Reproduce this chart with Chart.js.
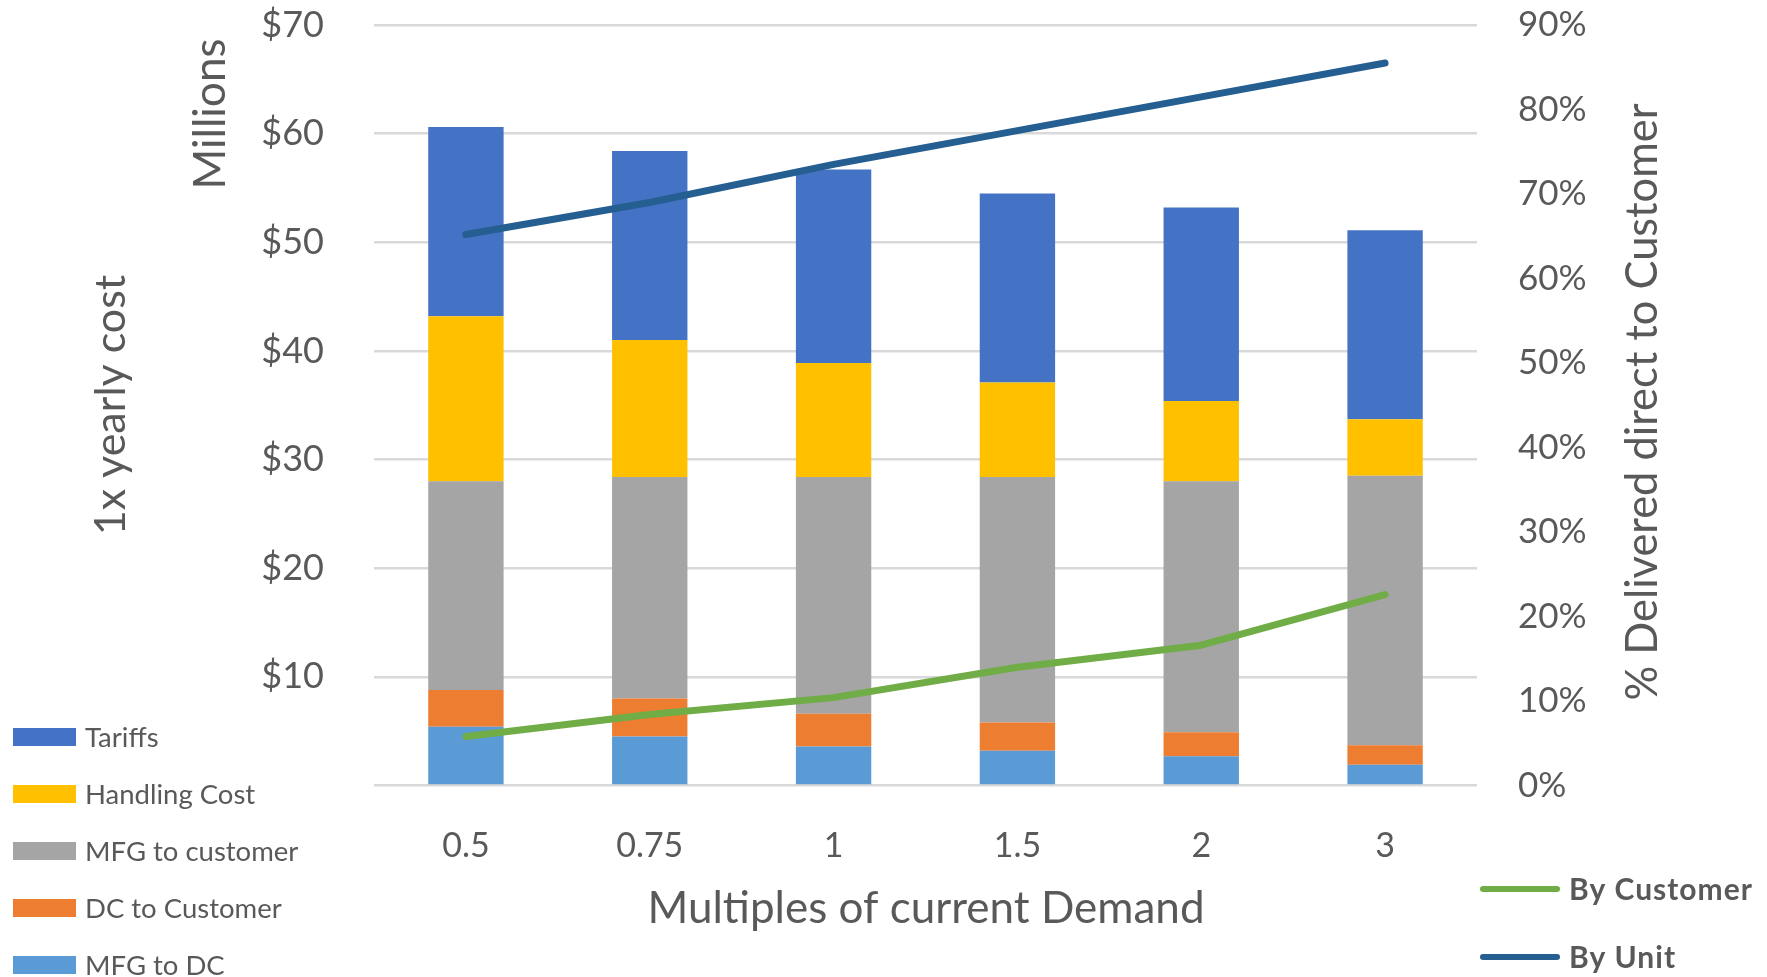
<!DOCTYPE html>
<html>
<head>
<meta charset="utf-8">
<script src="https://cdn.jsdelivr.net/npm/chart.js@4/dist/chart.umd.min.js"></script>
<style>
  html, body { margin: 0; padding: 0; background: #ffffff; }
  canvas { display: block; }
</style>
</head>
<body>
<canvas id="c" width="1767" height="977"></canvas>
<script>
// Demand multiples on the category axis
const categories = ['0.5', '0.75', '1', '1.5', '2', '3'];

// Yearly cost components, $ millions (stacked bottom to top)
const mfgToDc       = [5.4, 4.5, 3.6, 3.2, 2.7, 1.9];
const dcToCustomer  = [3.4, 3.5, 3.0, 2.6, 2.2, 1.8];
const mfgToCustomer = [19.2, 20.4, 21.8, 22.6, 23.1, 24.8];
const handlingCost  = [15.2, 12.6, 10.5, 8.7, 7.4, 5.2];
const tariffs       = [17.4, 17.4, 17.8, 17.4, 17.8, 17.4];

// Share delivered direct to customer, %
const byCustomer = [5.8, 8.4, 10.4, 14.0, 16.6, 22.6];
const byUnit     = [65.2, 69.0, 73.5, 77.5, 81.5, 85.5];

// Axis tick values
const costTicks = [0, 10, 20, 30, 40, 50, 60, 70];
const pctTicks  = [0, 10, 20, 30, 40, 50, 60, 70, 80, 90];

const TEXT = '#595959';
const FONT = 'Lato, "Open Sans", sans-serif';

const barSet = (label, data, color) => ({
  type: 'bar', label, data, backgroundColor: color, borderWidth: 0,
  yAxisID: 'y', stack: 'cost', order: 2,
  barPercentage: 0.41, categoryPercentage: 1.0
});
const lineSet = (label, data, color) => ({
  type: 'line', label, data, borderColor: color, backgroundColor: color,
  borderWidth: 7, pointRadius: 0, tension: 0, yAxisID: 'y1', order: 0,
  borderCapStyle: 'round', borderJoinStyle: 'round'
});

const datasets = [
  barSet('MFG to DC', mfgToDc, '#5b9bd5'),
  barSet('DC to Customer', dcToCustomer, '#ed7d31'),
  barSet('MFG to customer', mfgToCustomer, '#a5a5a5'),
  barSet('Handling Cost', handlingCost, '#ffc000'),
  barSet('Tariffs', tariffs, '#4472c4'),
  lineSet('By Customer', byCustomer, '#70ad47'),
  lineSet('By Unit', byUnit, '#255e91')
];

// Axis titles and the two legends
const decorations = {
  id: 'decorations',
  afterDraw(chart) {
    const ctx = chart.ctx;
    ctx.save();
    ctx.fillStyle = TEXT;
    ctx.textBaseline = 'middle';

    // rotated axis titles
    const vtext = (txt, x, y, size, maxW) => {
      ctx.save();
      ctx.translate(x, y);
      ctx.rotate(-Math.PI / 2);
      ctx.textAlign = 'center';
      ctx.font = size + 'px ' + FONT;
      if (maxW) ctx.fillText(txt, 0, 0, maxW); else ctx.fillText(txt, 0, 0);
      ctx.restore();
    };
    vtext('Millions', 211, 114, 44);
    vtext('1x yearly cost', 111, 405, 43);
    vtext('% Delivered direct to Customer', 1643, 402, 44, 597);

    // category axis title
    ctx.textAlign = 'center';
    ctx.font = '44px ' + FONT;
    ctx.fillText('Multiples of current Demand', 926, 909);

    // bar legend, top item is the top of the stack
    const bars = chart.data.datasets.filter(d => d.type === 'bar').slice().reverse();
    ctx.textAlign = 'left';
    ctx.font = '27.5px ' + FONT;
    bars.forEach((d, i) => {
      const cy = 737 + i * 57;
      ctx.fillStyle = d.backgroundColor;
      ctx.fillRect(13, cy - 9, 63, 18);
      ctx.fillStyle = TEXT;
      ctx.fillText(d.label, 85, cy + 1);
    });

    // line legend
    const lines = chart.data.datasets.filter(d => d.type === 'line');
    ctx.font = 'bold 30px ' + FONT;
    if ('letterSpacing' in ctx) ctx.letterSpacing = '1px';
    lines.forEach((d, i) => {
      const cy = 889 + i * 68;
      ctx.strokeStyle = d.borderColor;
      ctx.lineWidth = 6;
      ctx.lineCap = 'round';
      ctx.beginPath();
      ctx.moveTo(1483, cy);
      ctx.lineTo(1557, cy);
      ctx.stroke();
      ctx.fillStyle = TEXT;
      ctx.fillText(d.label, 1569, cy + 1);
    });
    ctx.restore();
  }
};

new Chart(document.getElementById('c'), {
  data: { labels: categories, datasets },
  plugins: [decorations],
  options: {
    responsive: false,
    animation: false,
    devicePixelRatio: 1,
    layout: { padding: { top: 25, bottom: 0, left: 0, right: 0 } },
    plugins: { legend: { display: false }, tooltip: { enabled: false } },
    scales: {
      x: {
        stacked: true,
        grid: { display: false, drawTicks: false },
        border: { display: false },
        ticks: { color: TEXT, font: { family: FONT, size: 34 }, padding: 40 },
        afterFit(s) { s.height = 191.5; s.paddingLeft = 0; s.paddingRight = 0; }
      },
      y: {
        stacked: true,
        position: 'left',
        min: 0, max: 70,
        afterBuildTicks(s) { s.ticks = costTicks.map(v => ({ value: v })); },
        grid: { color: '#d9d9d9', lineWidth: 2.5, drawTicks: false },
        border: { display: false },
        ticks: {
          color: TEXT, font: { family: FONT, size: 36 }, padding: 50,
          callback: v => (v === 0 ? '' : '$' + v)
        },
        afterFit(s) { s.width = 374; s.paddingTop = 0; s.paddingBottom = 0; }
      },
      y1: {
        position: 'right',
        min: 0, max: 90,
        afterBuildTicks(s) { s.ticks = pctTicks.map(v => ({ value: v })); },
        grid: { display: false, drawTicks: false },
        border: { display: false },
        ticks: {
          color: TEXT, font: { family: FONT, size: 35 }, padding: 41,
          callback: v => v + '%'
        },
        afterFit(s) { s.width = 290; s.paddingTop = 0; s.paddingBottom = 0; }
      }
    }
  }
});
</script>
</body>
</html>
